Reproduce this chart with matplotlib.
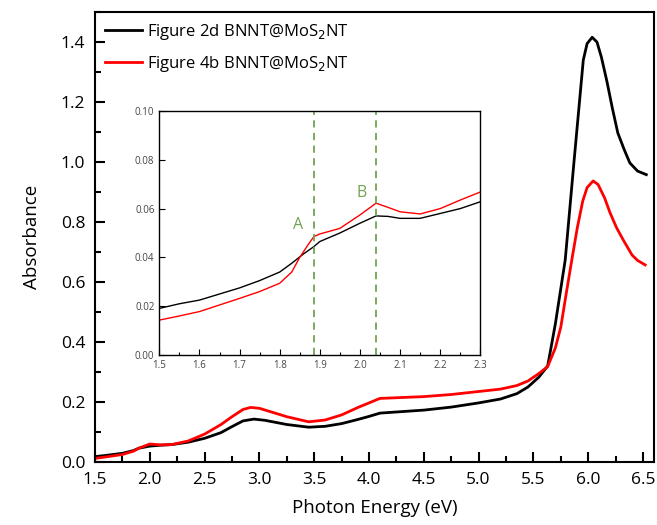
import matplotlib.pyplot as plt
from matplotlib.ticker import MultipleLocator

plt.rcParams['font.family'] = ['Open Sans', 'DejaVu Sans']

# main spectra (photon energy in eV, absorbance)
energy_2d = [1.5, 1.6, 1.75, 1.85, 1.9, 2.0, 2.1, 2.2, 2.35, 2.5, 2.65, 2.75, 2.85, 2.95, 3.05,
             3.25, 3.45, 3.6, 3.75, 3.9, 4.0, 4.1, 4.3, 4.5, 4.75, 5.0, 5.2, 5.35, 5.45, 5.55,
             5.63, 5.7, 5.79, 5.87, 5.92, 5.955, 5.99, 6.036, 6.08, 6.12, 6.17, 6.22, 6.27, 6.33,
             6.38, 6.45, 6.53]
absorb_2d = [0.018, 0.022, 0.029, 0.038, 0.046, 0.053, 0.056, 0.058, 0.066, 0.079, 0.098, 0.118, 0.137, 0.143, 0.139,
             0.125, 0.116, 0.119, 0.128, 0.142, 0.152, 0.163, 0.168, 0.173, 0.183, 0.197, 0.21, 0.228, 0.25, 0.283,
             0.32, 0.46, 0.673, 1.0, 1.2, 1.34, 1.395, 1.416, 1.40, 1.35, 1.27, 1.18, 1.097, 1.04,
             0.997, 0.97, 0.958]
energy_4b = [1.5, 1.6, 1.75, 1.85, 1.9, 2.0, 2.1, 2.2, 2.35, 2.5, 2.65, 2.75, 2.85, 2.92, 3.0,
             3.25, 3.45, 3.6, 3.75, 3.9, 4.0, 4.1, 4.3, 4.5, 4.75, 5.0, 5.2, 5.35, 5.45, 5.55,
             5.63, 5.7, 5.75, 5.8, 5.85, 5.9, 5.95, 5.99, 6.045, 6.09, 6.15, 6.2, 6.26, 6.32,
             6.4, 6.45, 6.52]
absorb_4b = [0.012, 0.017, 0.025, 0.036, 0.046, 0.06, 0.057, 0.058, 0.07, 0.093, 0.125, 0.151, 0.175, 0.182, 0.179,
             0.151, 0.134, 0.14, 0.157, 0.182, 0.197, 0.212, 0.215, 0.218, 0.225, 0.235, 0.243, 0.255, 0.27, 0.295,
             0.318, 0.38, 0.45, 0.563, 0.673, 0.78, 0.87, 0.915, 0.937, 0.925, 0.88, 0.83, 0.78, 0.74,
             0.69, 0.672, 0.657]

# inset (zoom of 1.5 - 2.3 eV)
inset_e_2d = [1.5, 1.55, 1.6, 1.65, 1.7, 1.75, 1.8, 1.83, 1.86, 1.885, 1.9, 1.95, 2.0, 2.04,
              2.07, 2.1, 2.15, 2.2, 2.25, 2.3]
inset_a_2d = [0.0191, 0.021, 0.0225, 0.025, 0.0275, 0.0305, 0.034, 0.0376, 0.0415, 0.0444, 0.0465, 0.050,
              0.054, 0.057, 0.0568, 0.056, 0.056, 0.058, 0.060, 0.0628]
inset_e_4b = [1.5, 1.55, 1.6, 1.65, 1.7, 1.75, 1.8, 1.83, 1.85, 1.87, 1.885, 1.9, 1.95, 2.0,
              2.04, 2.07, 2.1, 2.15, 2.2, 2.25, 2.3]
inset_a_4b = [0.0143, 0.016, 0.0178, 0.0205, 0.0232, 0.026, 0.0294, 0.034, 0.040, 0.045, 0.0485, 0.0496,
              0.0519, 0.0574, 0.0622, 0.0605, 0.0587, 0.0578, 0.060, 0.0635, 0.0668]

peak_pos = [1.885, 2.04]
peak_names = ['A', 'B']
peak_label_xy = [(1.846, 0.0533), (2.004, 0.0663)]

green = '#72a352'

fig = plt.figure(figsize=(6.57, 5.25), dpi=100)
ax = fig.add_axes([0.1446, 0.12, 0.8508, 0.857])

ax.plot(energy_2d, absorb_2d, color='black', lw=2.0, label='Figure 2d BNNT@MoS$_2$NT')
ax.plot(energy_4b, absorb_4b, color='#ff0000', lw=2.0, label='Figure 4b BNNT@MoS$_2$NT')

ax.set_xlim(1.5, 6.6)
ax.set_ylim(0, 1.5)
ax.xaxis.set_major_locator(MultipleLocator(0.5))
ax.xaxis.set_minor_locator(MultipleLocator(0.25))
ax.yaxis.set_major_locator(MultipleLocator(0.2))
ax.yaxis.set_minor_locator(MultipleLocator(0.1))
ax.xaxis.set_major_formatter('{x:.1f}')
ax.yaxis.set_major_formatter('{x:.1f}')
ax.tick_params(which='both', direction='in', top=False, right=False, labelsize=12.5, width=1.5)
ax.tick_params(which='major', length=7, pad=7)
ax.tick_params(which='minor', length=4)
for s in ax.spines.values():
    s.set_linewidth(1.5)
ax.set_xlabel('Photon Energy (eV)', fontsize=13.5, labelpad=8)
ax.set_ylabel('Absorbance', fontsize=13.5, labelpad=14)

leg = ax.legend(loc='upper left', frameon=False, fontsize=12, handlelength=2.2,
                handletextpad=0.3, borderaxespad=0.2, labelspacing=0.7)

# inset
ins = fig.add_axes([0.2425, 0.3238, 0.4886, 0.4648])
ins.plot(inset_e_2d, inset_a_2d, color='black', lw=1.0)
ins.plot(inset_e_4b, inset_a_4b, color='#ff0000', lw=1.0)
for p in peak_pos:
    ins.axvline(p, color=green, lw=1.3, ls=(0, (4, 3)))
for name, (lx, ly) in zip(peak_names, peak_label_xy):
    ins.text(lx, ly, name, color=green, fontsize=11.5, ha='center', va='center')
ins.set_xlim(1.5, 2.3)
ins.set_ylim(0, 0.1)
ins.xaxis.set_major_locator(MultipleLocator(0.1))
ins.xaxis.set_minor_locator(MultipleLocator(0.05))
ins.yaxis.set_major_locator(MultipleLocator(0.02))
ins.xaxis.set_major_formatter('{x:.1f}')
ins.yaxis.set_major_formatter('{x:.2f}')
ins.tick_params(which='both', direction='in', top=False, right=False, labelsize=7,
                labelcolor='#444444', width=0.8)
ins.tick_params(which='major', length=4)
ins.tick_params(which='minor', length=2)
for s in ins.spines.values():
    s.set_linewidth(1.0)

fig.savefig('out.png', dpi=100)
